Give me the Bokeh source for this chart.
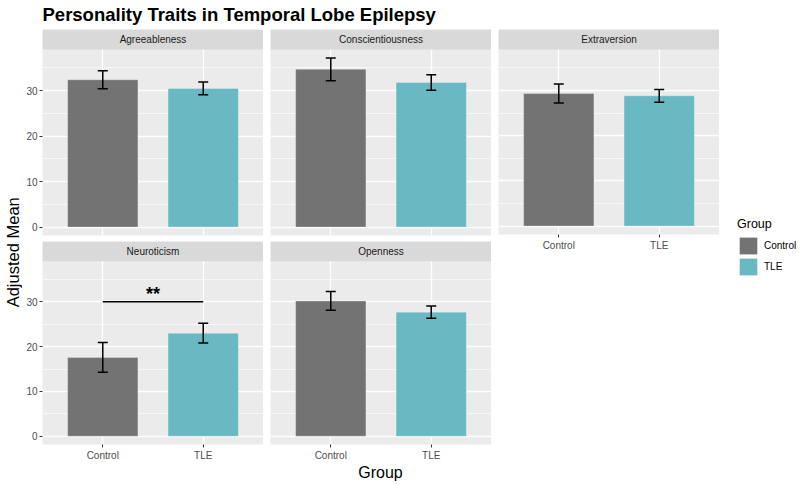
import math
from bokeh.plotting import figure
from bokeh.models import (Range1d, FixedTicker, ColumnDataSource, Whisker, TeeHead,
                          BoxAnnotation, Legend, LegendItem, Label)
from bokeh.layouts import row, column
from bokeh.embed import file_html
from bokeh.resources import INLINE
from bokeh.core.properties import value

# ---------------- data ----------------
title_text = "Personality Traits in Temporal Lobe Epilepsy"
traits = ["Agreeableness", "Conscientiousness", "Extraversion", "Neuroticism", "Openness"]
groups = ["Control", "TLE"]
control_mean = [32.4, 34.7, 29.3, 17.6, 30.2]
control_err = [2.0, 2.5, 2.1, 3.3, 2.1]
tle_mean = [30.5, 31.8, 28.8, 23.0, 27.7]
tle_err = [1.4, 1.7, 1.4, 2.2, 1.35]
y_ticks = [0, 10, 20, 30]
y_minor = [5, 15, 25, 35]
sig_trait = "Neuroticism"
sig_text = "**"
sig_y = 30.0
x_title = "Group"
y_title = "Adjusted Mean"
legend_title = "Group"

# ---------------- style ----------------
FONT = "Liberation Sans"
group_colors = ["#737373", "#69B8C2"]
PANEL_BG = "#EBEBEB"
STRIP_BG = "#D9D9D9"
PANEL_W = 221
STRIP_H = 20

xs = [i + 1 for i in range(len(groups))]
x_lo, x_hi = xs[0] - 0.6, xs[-1] + 0.6
upper_all = [m + e for m, e in zip(control_mean + tle_mean, control_err + tle_err)]
y_max = max(upper_all)
y_lo, y_hi = -0.05 * y_max, 1.05 * y_max


def make_panel(i, frame_h, left_axis, bottom_axis, border_left, border_bottom):
    trait = traits[i]
    strip_units = STRIP_H * (y_hi - y_lo) / (frame_h - STRIP_H)
    p = figure(width=border_left + PANEL_W, height=frame_h + border_bottom,
               x_range=Range1d(x_lo, x_hi), y_range=Range1d(y_lo, y_hi + strip_units),
               output_backend="svg", toolbar_location=None,
               x_axis_location="below" if bottom_axis else None,
               y_axis_location="left" if left_axis else None,
               min_border_left=border_left, min_border_right=0,
               min_border_top=0, min_border_bottom=border_bottom)
    p.background_fill_color = PANEL_BG
    p.border_fill_color = "white"
    p.outline_line_color = None

    p.xgrid.ticker = FixedTicker(ticks=xs)
    p.xgrid.grid_line_color = "white"
    p.xgrid.grid_line_width = 1.3
    p.ygrid.ticker = FixedTicker(ticks=y_ticks, minor_ticks=y_minor)
    p.ygrid.grid_line_color = "white"
    p.ygrid.grid_line_width = 1.3
    p.ygrid.minor_grid_line_color = "white"
    p.ygrid.minor_grid_line_width = 0.6

    for ax in p.axis:
        ax.axis_line_color = None
        ax.major_tick_line_color = "#333333"
        ax.major_tick_line_width = 1
        ax.major_tick_out = 3
        ax.major_tick_in = 0
        ax.minor_tick_line_color = None
        ax.major_label_text_color = "#4D4D4D"
        ax.major_label_text_font = FONT
        ax.major_label_text_font_size = "10px"
        ax.major_label_standoff = 2
    if bottom_axis:
        p.xaxis.ticker = FixedTicker(ticks=xs)
        p.xaxis.major_label_overrides = {x: g for x, g in zip(xs, groups)}
    if left_axis:
        p.yaxis.ticker = FixedTicker(ticks=y_ticks)

    means = [control_mean[i], tle_mean[i]]
    errs = [control_err[i], tle_err[i]]
    src = ColumnDataSource(dict(
        x=xs, top=means,
        lower=[m - e for m, e in zip(means, errs)],
        upper=[m + e for m, e in zip(means, errs)],
        color=group_colors, group=groups))
    p.vbar(x="x", top="top", bottom=0, width=0.7, fill_color="color",
           line_color="white", line_alpha=0.3, line_width=1, source=src)
    w = Whisker(base="x", upper="upper", lower="lower", source=src,
                line_color="black", line_width=1.5, level="annotation",
                upper_head=TeeHead(size=10, line_color="black", line_width=1.5),
                lower_head=TeeHead(size=10, line_color="black", line_width=1.5))
    p.add_layout(w)

    if trait == sig_trait:
        p.segment(x0=[xs[0]], x1=[xs[-1]], y0=[sig_y], y1=[sig_y],
                  line_color="black", line_width=1.5)
        p.text(x=[(xs[0] + xs[-1]) / 2], y=[sig_y + 1.7], text=[sig_text],
               text_align="center", text_baseline="alphabetic",
               text_font=value(FONT), text_font_style="bold",
               text_font_size="18px", text_color="black")

    strip = BoxAnnotation(bottom=y_hi, fill_color=STRIP_BG, fill_alpha=1,
                          line_color=None, level="annotation")
    p.add_layout(strip)
    p.add_layout(Label(x=(x_lo + x_hi) / 2, y=y_hi + strip_units / 2, text=trait,
                       text_align="center", text_baseline="middle",
                       text_font=FONT, text_font_size="10px", text_color="#1A1A1A",
                       level="annotation"))
    return p


def text_fig(w, h):
    f = figure(width=w, height=h, x_range=Range1d(0, w), y_range=Range1d(0, h),
               output_backend="svg", toolbar_location=None,
               x_axis_location=None, y_axis_location=None, min_border=0)
    f.outline_line_color = None
    f.xgrid.visible = False
    f.ygrid.visible = False
    f.background_fill_color = "white"
    f.border_fill_color = "white"
    return f


TOTAL_W = 800
TITLE_H = 29
title_fig = text_fig(TOTAL_W, TITLE_H)
title_fig.add_layout(Label(x=42, y=TITLE_H - 14.1, text=title_text, text_font=FONT,
                           text_font_style="bold", text_font_size="18.5px",
                           text_color="black", text_baseline="middle"))

ROW_H = 434
ylab_fig = text_fig(22, ROW_H)
ylab_fig.add_layout(Label(x=12.3, y=ROW_H - 233, text=y_title, angle=math.pi / 2,
                          text_font=FONT, text_font_size="16.5px", text_color="black",
                          text_align="center", text_baseline="middle"))

p1 = make_panel(0, 206, True, False, 20, 6)
p4 = make_panel(3, 205, True, True, 20, 17)
p2 = make_panel(1, 206, False, False, 7, 6)
p5 = make_panel(4, 205, False, True, 7, 17)
p3 = make_panel(2, 206, False, True, 7, 18)

legend_fig = text_fig(81, ROW_H)
lsrc = ColumnDataSource(dict(x=[0, 0], top=[0, 0], color=group_colors, group=groups))
lr = legend_fig.vbar(x="x", top="top", bottom=0, width=0, fill_color="color",
                     line_color=None, source=lsrc)
legend = Legend(items=[LegendItem(label=g, renderers=[lr], index=k) for k, g in enumerate(groups)],
                location=(18, 167), title=legend_title,
                title_text_font=FONT, title_text_font_size="12.5px", title_text_color="black",
                title_text_font_style="normal", title_standoff=4,
                label_text_font=FONT, label_text_font_size="10px", label_text_color="black",
                glyph_width=22, glyph_height=21, label_height=21, spacing=0,
                padding=0, margin=0, label_standoff=5,
                border_line_color=None, background_fill_alpha=0)
legend_fig.add_layout(legend)

XLAB_H = 22
xlab_fig = text_fig(TOTAL_W, XLAB_H)
xlab_fig.add_layout(Label(x=380, y=XLAB_H - 9.3, text=x_title, text_font=FONT,
                          text_font_size="16px", text_color="black",
                          text_align="center", text_baseline="middle"))

layout = column(
    title_fig,
    row(ylab_fig, column(p1, p4), column(p2, p5), p3, legend_fig),
    xlab_fig,
)

open("out.html", "w").write(file_html(layout, INLINE))
